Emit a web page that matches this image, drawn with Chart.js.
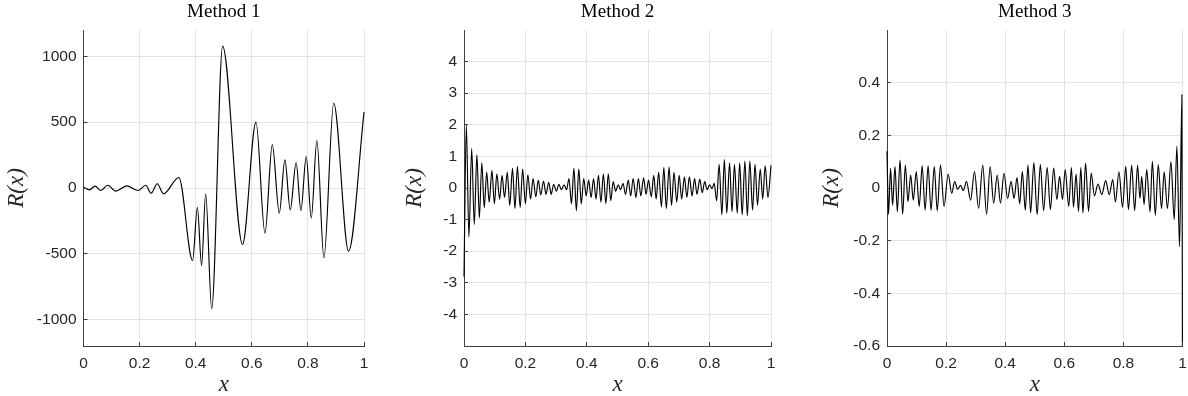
<!DOCTYPE html>
<html>
<head>
<meta charset="utf-8">
<script src="https://cdn.jsdelivr.net/npm/chart.js@4/dist/chart.umd.min.js"></script>
<style>
  html, body { margin:0; padding:0; background:#fff; }
  body { width:1188px; height:396px; position:relative; overflow:hidden; }
  canvas { position:absolute; top:0; }
</style>
</head>
<body>
<canvas id="c1" width="384" height="396" style="left:0px"></canvas>
<canvas id="c2" width="395" height="396" style="left:398px"></canvas>
<canvas id="c3" width="373" height="396" style="left:815px"></canvas>
<script>
// ---------- data ----------
const titles = ["Method 1", "Method 2", "Method 3"];
const xTickVals = [0, 0.2, 0.4, 0.6, 0.8, 1];

const m1X = [0, 0.021, 0.041, 0.062, 0.086, 0.115, 0.154, 0.195, 0.222, 0.241,
             0.263, 0.285, 0.340, 0.389, 0.406, 0.421, 0.4355, 0.457, 0.496, 0.567,
             0.615, 0.647, 0.673, 0.698, 0.718, 0.737, 0.758, 0.775, 0.794, 0.812,
             0.832, 0.857, 0.892, 0.945, 1.0];
const m1Y = [5, -14, 14, -19, 21, -24, 16, -19, 21, -39,
             32, -44, 80, -551, -146, -589, -44, -918, 1077, -429,
             500, -343, 330, -191, 214, -166, 194, -171, 239, -227,
             361, -530, 644, -480, 576];
const m1Ticks = [-1000, -500, 0, 500, 1000];

const m2X = [0, 0.0076, 0.016, 0.025, 0.0335, 0.042, 0.05, 0.058, 0.066, 0.074,
             0.082, 0.091, 0.099, 0.107, 0.116, 0.124, 0.132, 0.141, 0.149, 0.158,
             0.166, 0.174, 0.183, 0.191, 0.2, 0.208, 0.217, 0.225, 0.234, 0.242,
             0.25, 0.259, 0.267, 0.276, 0.284, 0.292, 0.301, 0.309, 0.317, 0.326,
             0.334, 0.342, 0.35, 0.358, 0.366, 0.374, 0.382, 0.39, 0.398, 0.406,
             0.414, 0.422, 0.43, 0.438, 0.446, 0.454, 0.462, 0.47, 0.478, 0.486,
             0.494, 0.502, 0.51, 0.518, 0.526, 0.535, 0.543, 0.551, 0.56, 0.568,
             0.576, 0.585, 0.593, 0.601, 0.61, 0.618, 0.626, 0.634, 0.643, 0.651,
             0.659, 0.668, 0.676, 0.684, 0.693, 0.701, 0.709, 0.718, 0.726, 0.734,
             0.743, 0.751, 0.759, 0.768, 0.776, 0.784, 0.792, 0.8, 0.808, 0.815,
             0.823, 0.831, 0.84, 0.848, 0.856, 0.865, 0.873, 0.881, 0.89, 0.898,
             0.906, 0.915, 0.923, 0.931, 0.94, 0.948, 0.956, 0.965, 0.973, 0.981,
             0.99, 1.0];
const m2Y = [-2.8, 2.0, -1.55, 1.25, -1.15, 1.06, -0.95, 0.8, -0.62, 0.5,
             -0.45, 0.55, -0.5, 0.45, -0.35, 0.4, -0.3, 0.5, -0.55, 0.62,
             -0.65, 0.68, -0.62, 0.6, -0.5, 0.42, -0.35, 0.3, -0.28, 0.25,
             -0.22, 0.22, -0.2, 0.18, -0.2, 0.12, -0.1, 0.12, -0.05, 0.1,
             -0.05, 0.3, -0.5, 0.62, -0.72, 0.6, -0.5, 0.3, -0.25, 0.25,
             -0.3, 0.3, -0.35, 0.4, -0.45, 0.45, -0.5, 0.45, -0.4, 0.2,
             -0.1, 0.1, -0.05, 0.15, -0.2, 0.25, -0.25, 0.3, -0.3, 0.3,
             -0.25, 0.32, -0.2, 0.25, -0.28, 0.4, -0.35, 0.5, -0.6, 0.65,
             -0.65, 0.66, -0.55, 0.5, -0.45, 0.4, -0.35, 0.35, -0.3, 0.35,
             -0.25, 0.3, -0.2, 0.28, -0.15, 0.2, -0.05, 0.1, -0.02, 0.15,
             -0.4, 0.75, -0.85, 0.9, -0.8, 0.8, -0.75, 0.75, -0.8, 0.8,
             -0.85, 0.85, -0.88, 0.85, -0.7, 0.75, -0.55, 0.6, -0.35, 0.7,
             -0.3, 0.72];
const m2Ticks = [-4, -3, -2, -1, 0, 1, 2, 3, 4];

const m3X = [0, 0.005, 0.012, 0.019, 0.027, 0.035, 0.044, 0.053, 0.062, 0.071,
             0.08, 0.089, 0.099, 0.109, 0.119, 0.129, 0.139, 0.149, 0.16, 0.17,
             0.181, 0.193, 0.207, 0.219, 0.229, 0.239, 0.249, 0.258, 0.269, 0.283,
             0.296, 0.31, 0.324, 0.337, 0.349, 0.361, 0.373, 0.384, 0.396, 0.408,
             0.42, 0.43, 0.44, 0.449, 0.458, 0.468, 0.477, 0.486, 0.497, 0.508,
             0.519, 0.53, 0.542, 0.553, 0.564, 0.575, 0.584, 0.594, 0.603, 0.615,
             0.624, 0.631, 0.64, 0.648, 0.656, 0.663, 0.672, 0.682, 0.691, 0.702,
             0.714, 0.727, 0.74, 0.752, 0.764, 0.773, 0.785, 0.797, 0.808, 0.817,
             0.828, 0.838, 0.848, 0.856, 0.862, 0.87, 0.879, 0.89, 0.898, 0.908,
             0.918, 0.929, 0.938, 0.949, 0.961, 0.972, 0.981, 0.99, 0.998, 1.0];
const m3Y = [0.14, -0.1, 0.075, -0.065, 0.081, -0.09, 0.106, -0.1, 0.087, -0.052,
             0.049, -0.046, 0.062, -0.07, 0.084, -0.084, 0.084, -0.084, 0.081, -0.086,
             0.087, -0.07, 0.053, -0.02, 0.024, -0.005, 0.01, -0.01, 0.024, -0.046,
             0.062, -0.077, 0.087, -0.1, 0.081, -0.058, 0.049, -0.058, 0.056, -0.04,
             0.024, -0.04, 0.04, -0.06, 0.062, -0.084, 0.087, -0.094, 0.097, -0.101,
             0.089, -0.086, 0.078, -0.082, 0.076, -0.044, 0.044, -0.044, 0.07, -0.07,
             0.078, -0.073, 0.053, -0.089, 0.078, -0.095, 0.095, -0.089, 0.057, -0.03,
             0.015, -0.025, 0.028, -0.025, 0.032, -0.053, 0.061, -0.073, 0.082, -0.082,
             0.086, -0.086, 0.086, -0.04, 0.044, -0.063, 0.07, -0.091, 0.101, -0.104,
             0.089, -0.078, 0.061, -0.078, 0.099, -0.12, 0.158, -0.222, 0.354, -0.75];
const m3Ticks = [-0.6, -0.4, -0.2, 0, 0.2, 0.4];

// ---------- drawing ----------
const AXIS = '#404040', GRID = '#e3e3e3', TXT = '#262626';
function align(p){ return Math.round(p - 0.5) + 0.5; }

const inwardTicks = {
  id: 'inwardTicks',
  afterDraw(chart) {
    const ctx = chart.ctx, a = chart.chartArea;
    const xs = chart.scales.x, ys = chart.scales.y;
    ctx.save();
    ctx.strokeStyle = AXIS; ctx.lineWidth = 1;
    xs.ticks.forEach(t => {
      const p = align(xs.getPixelForValue(t.value));
      ctx.beginPath(); ctx.moveTo(p, a.bottom); ctx.lineTo(p, a.bottom - 4); ctx.stroke();
    });
    ys.ticks.forEach(t => {
      const p = align(ys.getPixelForValue(t.value));
      ctx.beginPath(); ctx.moveTo(a.left, p); ctx.lineTo(a.left + 4, p); ctx.stroke();
    });
    ctx.restore();
  }
};

function makeChart(id, title, xArr, yArr, yMin, yMax, yTicks, yWidth, padRight) {
  const pts = xArr.map((x, i) => ({ x: x, y: yArr[i] }));
  return new Chart(document.getElementById(id), {
    type: 'line',
    data: { datasets: [{
      data: pts, borderColor: '#000', borderWidth: 1.15, pointRadius: 0,
      fill: false, cubicInterpolationMode: 'monotone',
      clip: { left: 3, right: 3, top: 0, bottom: 0 }
    }]},
    options: {
      responsive: false, animation: false, devicePixelRatio: 1,
      layout: { padding: { left: 0, top: 0, right: padRight, bottom: 0 } },
      plugins: {
        legend: { display: false }, tooltip: { enabled: false },
        title: { display: true, text: title, fullSize: false, color: '#000',
                 font: { family: 'Liberation Serif', size: 19, weight: 'normal', lineHeight: 1.2 },
                 padding: { top: 1, bottom: 6.2 } }
      },
      scales: {
        x: {
          type: 'linear', min: 0, max: 1,
          afterBuildTicks: s => { s.ticks = xTickVals.map(v => ({ value: v })); },
          afterFit: s => { s.height = 50; s.paddingLeft = 0; s.paddingRight = 0; },
          ticks: { callback: v => String(v), color: TXT, padding: 8, maxRotation: 0, autoSkip: false,
                   font: { family: 'Liberation Sans', size: 15.5 } },
          grid: { color: GRID, drawTicks: false, lineWidth: 1 },
          border: { display: true, color: AXIS, width: 1 },
          title: { display: true, text: 'x', color: TXT,
                   font: { family: 'Liberation Serif', style: 'italic', size: 23, lineHeight: 1 },
                   padding: { top: 0, bottom: 0 } }
        },
        y: {
          type: 'linear', min: yMin, max: yMax,
          afterBuildTicks: s => { s.ticks = yTicks.map(v => ({ value: v })); },
          afterFit: s => { s.width = yWidth; s.paddingTop = 0; s.paddingBottom = 0; },
          ticks: { callback: v => String(v), color: TXT, padding: 7, autoSkip: false,
                   font: { family: 'Liberation Sans', size: 15.5 } },
          grid: { color: GRID, drawTicks: false, lineWidth: 1 },
          border: { display: true, color: AXIS, width: 1 },
          title: { display: true, text: 'R(x)', color: TXT,
                   font: { family: 'Liberation Serif', style: 'italic', size: 23, lineHeight: 1 },
                   padding: { top: 5.5, bottom: 0 } }
        }
      }
    },
    plugins: [inwardTicks]
  });
}

makeChart('c1', titles[0], m1X, m1Y, -1200, 1200, m1Ticks, 83.5, 20);
makeChart('c2', titles[1], m2X, m2Y, -5, 5, m2Ticks, 66, 22);
makeChart('c3', titles[2], m3X, m3Y, -0.6, 0.6, m3Ticks, 72, 5.5);
</script>
</body>
</html>
